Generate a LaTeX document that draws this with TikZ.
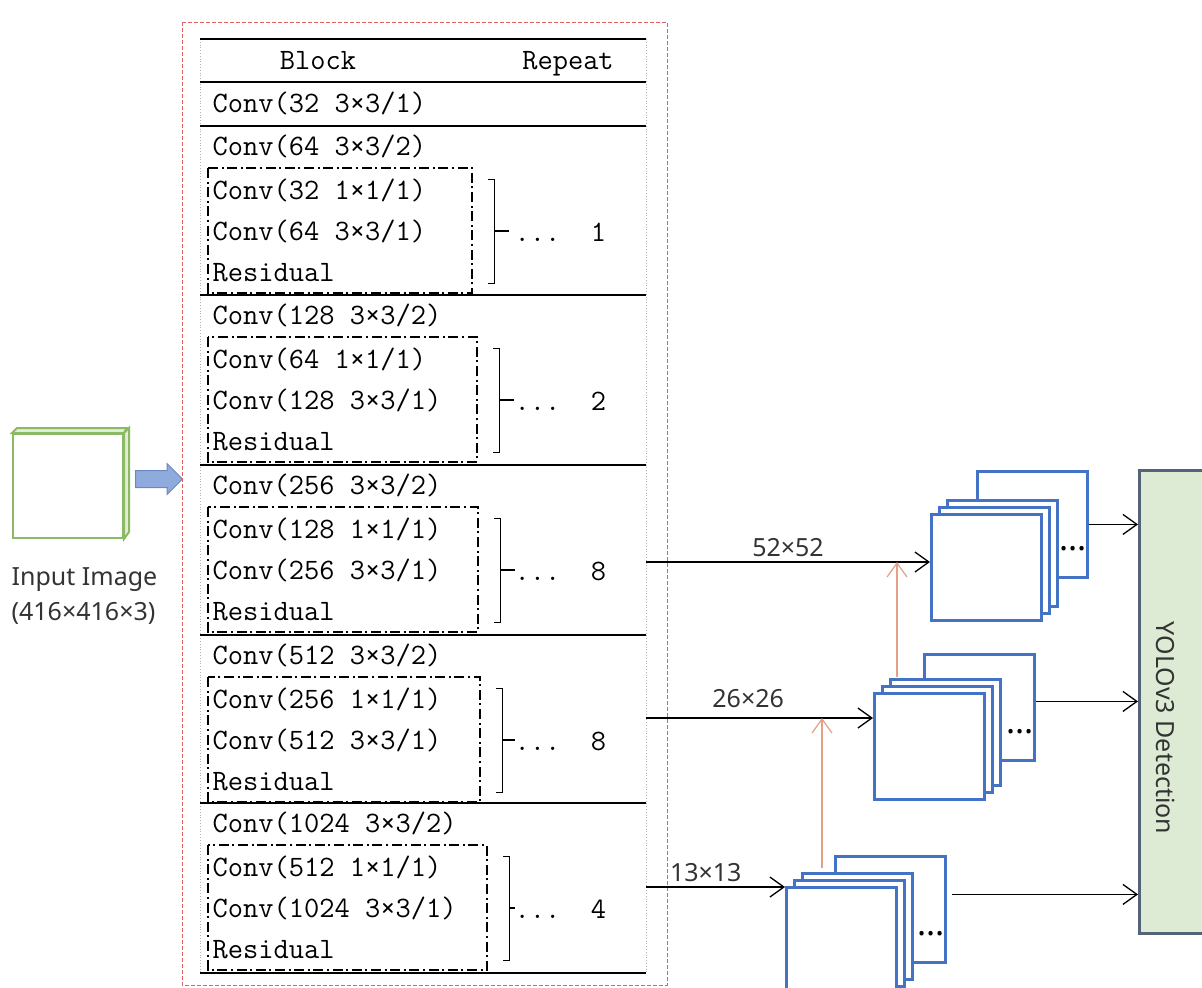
\documentclass[tikz,border=0pt]{standalone}
\usepackage{fontspec}
\setsansfont{Noto Sans}
\usepackage{tikz}
\usetikzlibrary{arrows.meta, shapes.arrows, positioning}

\definecolor{fmblue}{RGB}{68,114,196}
\definecolor{upcol}{RGB}{228,160,135}
\definecolor{imggreen}{RGB}{140,185,100}
\definecolor{detfill}{RGB}{221,234,212}
\definecolor{detline}{RGB}{84,98,122}
\definecolor{arrfill}{RGB}{143,170,220}
\definecolor{arrline}{RGB}{105,135,195}
\definecolor{frame}{RGB}{225,95,95}

\begin{document}
\begin{tikzpicture}[x=0.5pt, y=-0.5pt,
			>={Straight Barb[length=7pt,width=10pt]},   %Pfeilspitzen
			tab/.style={font=\fontsize{14.8}{17}\selectfont\ttfamily, inner sep=0pt, text height=10pt, text depth=3pt},
			lab/.style={font=\fontsize{12.5}{17.5}\selectfont\sffamily, text=black!80, inner sep=0pt},
			fmap/.style={draw=fmblue, line width=1.4pt, fill=white, minimum width=55pt, minimum height=53pt, inner sep=0pt, anchor=north west},
			dots/.style={font=\fontsize{17}{17}\selectfont\sffamily\bfseries, inner sep=0pt},
			resbox/.style={line width=1.2pt, dash pattern=on 5pt off 1.8pt on 1pt off 1.8pt},
			up/.style={->, draw=upcol, line width=0.6pt},
			bigarrow/.style={single arrow, draw=arrline, fill=arrfill, line width=0.5pt, inner xsep=0pt, inner ysep=4pt, single arrow head extend=3.5pt, minimum height=23.5pt},
			line width=0.65pt]
			\useasboundingbox (0,0) rectangle (1202,987);
			%Eingabebild
			\node[draw=imggreen, line width=1pt, fill=white, minimum width=55pt, minimum height=52pt, inner sep=0pt, anchor=north west] (inp) at (12,433) {};
			\draw[imggreen, line width=1pt, fill=imggreen!25] (inp.north west) -- ++(5,-5) -- ++(110,0) -- (inp.north east) -- cycle;
			\draw[imggreen, line width=1pt, fill=imggreen!25] (inp.north east) -- ++(5,-5) -- ++(0,104) -- (inp.south east) -- cycle;
			\node[lab, align=left, anchor=north west] (inplab) at (11,567) {Input Image\\(416×416×3)};
			\node[bigarrow, right=5.5pt of inp, yshift=3.5pt] (inarr) {};
			%Rahmen Darknet
			\draw[frame, line width=0.5pt, dash pattern=on 2pt off 1pt] (182,22) rectangle (667,985);
			%Tabelle
			\draw[gray!60, densely dotted, line width=0.4pt] (200,39) -- (200,973) (646,39) -- (646,973);
			\foreach \y in {39,82,126,295,465,635,803,973} \draw[line width=0.9pt] (200,\y) -- (646,\y);
			\node[tab] (hblock) at (318,62) {Block};
			\node[tab] (hrep) at (568,62) {Repeat};
			\node[tab, anchor=west] (c0) at (212,105) {Conv(32 3×3/1)};
			\foreach \i/\L/\a/\b/\r/\n in {1/126/64/32/472/1, 2/295/128/64/477/2, 3/465/256/128/478/8, 4/635/512/256/480/8, 5/803/1024/512/487/4} {
				\node[tab, anchor=west] (d\i) at (212,\L+22) {Conv(\a\ 3×3/2)};
				\node[tab, anchor=west] (e\i) at (212,\L+66) {Conv(\b\ 1×1/1)};
				\node[tab, anchor=west] (f\i) at (212,\L+107) {Conv(\a\ 3×3/1)};
				\node[tab, anchor=west] (g\i) at (212,\L+148) {Residual};
				\draw[resbox] (208,\L+42) rectangle (\r,\L+167);
				\draw[line width=0.5pt] (\r+16,\L+53) -- (\r+22,\L+53) -- (\r+22,\L+157) -- (\r+16,\L+157);
				\draw[line width=0.9pt] (\r+22,\L+105) -- ({min(\r+37,515)},\L+105);
				\node[tab, anchor=west] (r\i) at (514,\L+108) {...\ \ \n};
			}
			%Ausgaenge der Tabelle
			\coordinate (o52) at (646,562);
			\coordinate (o26) at (646,718);
			\coordinate (o13) at (646,887);
			%Feature Maps
			\foreach \n/\x/\y/\bx/\by in {s52/930/513/976/470, s26/873/692/923/653, s13/785/886/834/855} {
				\node[fmap] (\n-b) at (\bx,\by) {};
				\node[fmap] (\n-3) at (\x+16,\y-14) {};
				\node[fmap] (\n-2) at (\x+8,\y-7) {};
				\node[fmap] (\n-1) at (\x,\y) {};
				\node[dots] (\n-d) at ([shift={(-16,-30)}]\n-b.south east) {...};
			}
			%Detektion
			\node[draw=detline, fill=detfill, line width=1.3pt, minimum width=40pt, minimum height=231.5pt, inner sep=0pt, anchor=north west] (det) at (1138,469) {};
			\node[lab, rotate=-90] (detlab) at (1166,728) {YOLOv3 Detection};
			%Pfeile
			\draw[->] (o52) -- (o52 -| s52-1.west) node[lab, midway, above=2.5pt] {52×52};
			\draw[->] (o26) -- (o26 -| s26-1.west) node[lab, pos=0.45, above=5pt] {26×26};
			\draw[->] (o13) -- (o13 -| s13-1.west) node[lab, pos=0.43, above=2.5pt] {13×13};
			\draw[->] (s52-b.east) -- (s52-b.east -| det.west);
			\draw[->] ([yshift=3pt]s26-b.east) -- ([yshift=3pt]s26-b.east -| det.west);
			\draw[->] ([xshift=2.5pt, yshift=7.5pt]s13-b.east) -- ([yshift=7.5pt]s13-b.east -| det.west);
			%Upsampling
			\coordinate (u13) at (822,868);
			\coordinate (u26) at (897,677);
			\draw[up] (u13) -- (u13 |- o26);
			\draw[up] (u26) -- (u26 |- o52);
		\end{tikzpicture}
\end{document}
